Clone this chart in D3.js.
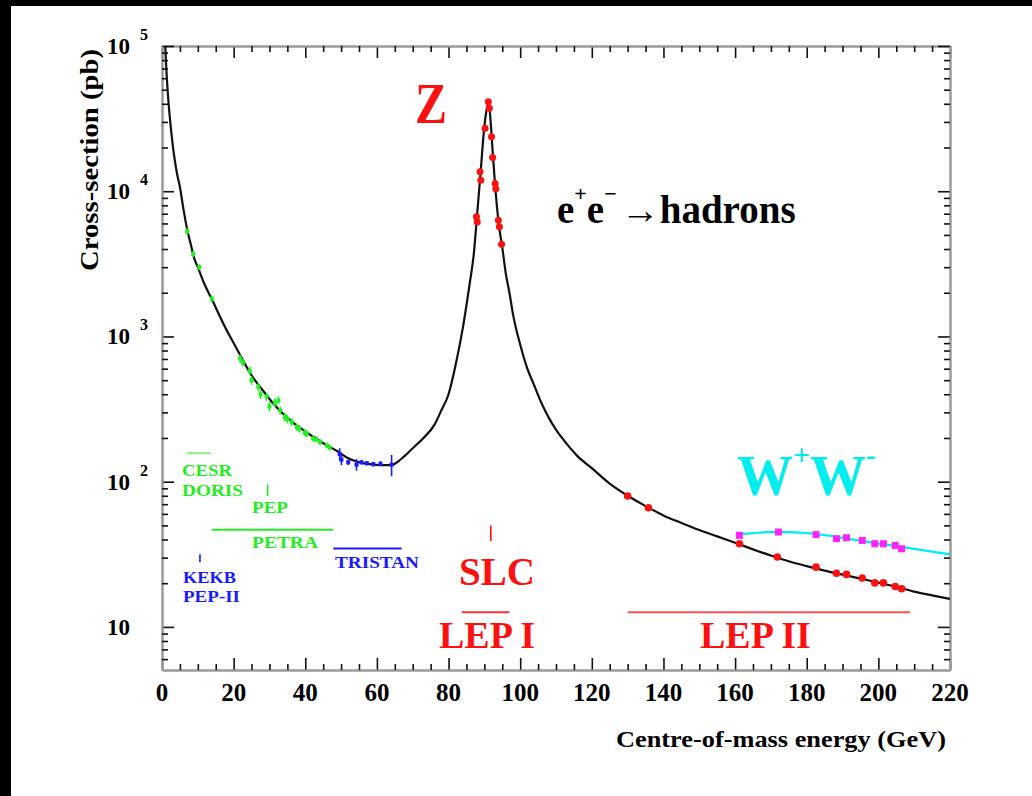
<!DOCTYPE html>
<html><head><meta charset="utf-8">
<script src="https://cdn.jsdelivr.net/npm/d3@7"></script>
<style>
html,body{margin:0;padding:0;background:#000;}
svg{display:block;}
text{font-family:"Liberation Serif","Times New Roman",serif;font-weight:bold;}
</style></head><body>
<svg id="c" width="1032" height="796"></svg>
<script>
// ---------- data ----------
// total e+e- -> hadrons cross-section curve [E (GeV), sigma (pb)]
const hadronCurve = [[0.8,115000],[1.2,70000],[1.8,41500],[2.5,27000],[3.0,20800],[3.5,16800],[4.2,13200],[5.0,10700],[6.0,7500],[7.0,5500],[8.0,4350],[9.0,3450],[10,3000],[12,2250],[14,1790],[16,1400],[18,1110],[20,900],[22,730],[25,540],[28,430],[31,347],[34,290],[37,250],[40,222],[43,198],[46,178],[49,162],[52,145],[55,136],[58,132],[61,130],[64,130],[67,145],[70,170],[73,200],[76,245],[78,310],[80,400],[82,640],[84,1150],[86,2400],[87,3600],[88,7000],[89,14000],[90,28000],[90.6,36000],[91.2,41000],[91.8,29000],[92.4,17500],[93,11000],[94,6000],[95,4100],[96,2700],[97,2000],[98,1420],[100,880],[102,600],[104,455],[106,345],[108,275],[110,228],[113,182],[116,150],[120,124],[125,97],[130,80],[135,68],[140,58.5],[145,52],[150,46.5],[155,42],[160,38],[165,34.2],[170,31],[175,28.3],[180,26.2],[185,24.4],[190,22.9],[195,21.5],[200,20.2],[205,18.9],[210,17.5],[215,16.5],[220,15.6]];
// W+W- curve
const wwCurve = [[161,43.5],[165,44.3],[170,45],[175,45],[180,44.2],[185,42.8],[190,41],[195,39.2],[200,37.5],[205,36],[210,34.5],[215,33],[220,31.6]];
// low-energy measurements (CESR, DORIS, PEP, PETRA) [E, sigma, err]
const greenPts = [[7.0,5300,250],[8.7,3700,180],[10.4,3000,140],[13.9,1820,90],[21.8,705,45],[22.6,660,40],[24.5,580,40],[25.0,500,35],[26.9,450,30],[27.5,400,28],[29.2,385,25],[30.0,330,25],[31.5,350,25],[32.5,362,22],[33.0,310,20],[34.3,280,18],[35.0,270,18],[36.2,258,16],[37.6,238,14],[38.3,232,14],[39.8,218,12],[40.4,214,12],[42.2,198,10],[43.0,196,10],[44.1,188,9],[46.0,178,8],[46.8,172,8]];
// TRISTAN measurements [E, sigma, err]
const bluePts = [[49.6,155,15],[50.1,142,12],[52.0,136,6],[54.3,131,12],[55.7,136,5],[57.2,134,5],[59.0,132,5],[61.0,133,5],[64.1,131,22]];
// LEP I (Z peak) measurements [E, sigma]
const lep1Pts = [[91.1,41300],[91.4,37200],[90.2,27100],[92.0,23700],[92.3,17100],[88.8,13600],[89.0,11900],[93.0,11300],[93.2,10400],[87.8,6670],[88.0,6150],[93.9,6310],[94.2,5690],[94.8,4320]];
// LEP II hadronic measurements [E, sigma]
const lep2Pts = [[130.0,79.6],[135.8,66.2],[161.2,37.4],[171.8,30.3],[182.6,25.8],[188.3,23.4],[191.1,23.0],[195.5,21.7],[199.0,20.1],[201.4,20.1],[204.7,19.0],[206.5,18.3]];
// LEP II W+W- measurements [E, sigma]
const wwPts = [[161.2,42.7],[172.1,45.0],[182.6,43.2],[188.3,40.5],[191.1,41.1],[195.5,39.4],[199.0,37.4],[201.4,37.4],[204.7,36.4],[206.5,34.5]];
// accelerator energy ranges [name, Emin, Emax, sigma level]
const machineRanges = [["CESR",6.9,13.7,157],["PETRA",13.9,47.8,46.6],["TRISTAN",47.8,66.9,34.7],["LEP I",83.7,97.0,12.6],["LEP II",130,208.8,12.6]];
const machinePoints = [["PEP",29.5,79.6,95.5],["KEKB",10.6,27.9,31.6],["SLC",91.8,39,50]];
// tick labels
const xTickLabels = [0,20,40,60,80,100,120,140,160,180,200,220];
const yTickExps = [1,2,3,4,5];

// ---------- drawing ----------
const W = 1032, H = 796;
const svg = d3.select("#c");
svg.append("rect").attr("x",11).attr("y",6).attr("width",W-11).attr("height",H-6).attr("fill","#fff");

const x = d3.scaleLinear().domain([0,220]).range([162,950]);
const y = d3.scaleLog().domain([5.05,1e5]).range([670,46]);

svg.append("defs").append("clipPath").attr("id","clip")
  .append("rect").attr("x",162).attr("y",46).attr("width",788).attr("height",624);

const majorX = xTickLabels;
const minorX = x.ticks(44).filter(v => v % 20 !== 0);
const majorY = yTickExps.map(e => Math.pow(10,e));
const minorY = y.ticks().filter(v => !majorY.some(m => Math.abs(m - v) < 1e-9));

function styleAxis(g){
  g.select(".domain").attr("stroke","#9a9a9a").attr("stroke-width",2);
  g.selectAll(".tick line").attr("stroke","#111").attr("stroke-width",1.6);
  g.selectAll(".tick text").remove();
}
const axes = [
  [d3.axisBottom(x).tickValues(majorX).tickSize(-12), "translate(0,670)"],
  [d3.axisBottom(x).tickValues(minorX).tickSize(-6), "translate(0,670)"],
  [d3.axisTop(x).tickValues(majorX).tickSize(-12), "translate(0,46)"],
  [d3.axisTop(x).tickValues(minorX).tickSize(-6), "translate(0,46)"],
  [d3.axisLeft(y).tickValues(majorY).tickSize(-12), "translate(162,0)"],
  [d3.axisLeft(y).tickValues(minorY).tickSize(-6), "translate(162,0)"],
  [d3.axisRight(y).tickValues(majorY).tickSize(-12), "translate(950,0)"],
  [d3.axisRight(y).tickValues(minorY).tickSize(-6), "translate(950,0)"]
];
axes.forEach(([ax,tr]) => {
  svg.append("g").attr("transform",tr).call(ax.tickSizeOuter(0).tickFormat("")).call(styleAxis);
});

// x tick labels
svg.append("g").selectAll("text").data(xTickLabels).join("text")
  .attr("x", d => x(d)).attr("y", 701).attr("text-anchor","middle")
  .style("font-size","25px").attr("fill","#000").text(d => d);

// y tick labels
const yl = svg.append("g");
yTickExps.forEach(e => {
  const v = Math.pow(10,e);
  yl.append("text").attr("x",130).attr("y",y(v)+8).attr("text-anchor","end")
    .style("font-size","23px").text("10");
  if (e > 1) yl.append("text").attr("x",140).attr("y",y(v)-6)
    .style("font-size","16px").text(e);
});

// axis titles
svg.append("text").attr("transform","translate(98,160) rotate(-90)")
  .attr("text-anchor","middle").style("font-size","25px")
  .attr("textLength",222).attr("lengthAdjust","spacingAndGlyphs")
  .text("Cross-section (pb)");
svg.append("text").attr("x",616).attr("y",747)
  .style("font-size","24px")
  .attr("textLength",330).attr("lengthAdjust","spacingAndGlyphs")
  .text("Centre-of-mass energy (GeV)");

// curves
const plot = svg.append("g").attr("clip-path","url(#clip)");
const line = d3.line().x(d => x(d[0])).y(d => y(d[1])).curve(d3.curveMonotoneX);
plot.append("path").datum(wwCurve).attr("d",line)
  .attr("fill","none").attr("stroke","#00eeee").attr("stroke-width",2.2);
plot.append("path").datum(hadronCurve).attr("d",line)
  .attr("fill","none").attr("stroke","#111").attr("stroke-width",2.2);

// error-bar points
function errPts(data, color, size){
  const g = plot.append("g");
  g.selectAll("line").data(data).join("line")
    .attr("x1",d=>x(d[0])).attr("x2",d=>x(d[0]))
    .attr("y1",d=>y(d[1]+d[2])).attr("y2",d=>y(Math.max(d[1]-d[2],1)))
    .attr("stroke",color).attr("stroke-width",1.6);
  g.selectAll("rect").data(data).join("rect")
    .attr("x",d=>x(d[0])-size/2).attr("y",d=>y(d[1])-size/2)
    .attr("width",size).attr("height",size).attr("fill",color);
}
errPts(greenPts, "#22ee22", 4);
errPts(bluePts, "#1a1aff", 4);

plot.append("g").selectAll("circle").data(lep1Pts).join("circle")
  .attr("cx",d=>x(d[0])).attr("cy",d=>y(d[1])).attr("r",3.5).attr("fill","#ff1010");
plot.append("g").selectAll("circle").data(lep2Pts).join("circle")
  .attr("cx",d=>x(d[0])).attr("cy",d=>y(d[1])).attr("r",3.8).attr("fill","#ff1010");
plot.append("g").selectAll("rect").data(wwPts).join("rect")
  .attr("x",d=>x(d[0])-3.5).attr("y",d=>y(d[1])-3.5).attr("width",7).attr("height",7)
  .attr("fill","#ff22ff");

// accelerator ranges
const rangeColor = {"CESR":"#88ee88","PETRA":"#22ee22","TRISTAN":"#1a1aff","LEP I":"#ff3030","LEP II":"#ff5050"};
svg.append("g").selectAll("line").data(machineRanges).join("line")
  .attr("x1",d=>x(d[1])).attr("x2",d=>x(d[2])).attr("y1",d=>y(d[3])).attr("y2",d=>y(d[3]))
  .attr("stroke",d=>rangeColor[d[0]]).attr("stroke-width",2);
const pointColor = {"PEP":"#22ee22","KEKB":"#1a1aff","SLC":"#ff1010"};
svg.append("g").selectAll("line").data(machinePoints).join("line")
  .attr("x1",d=>x(d[1])).attr("x2",d=>x(d[1])).attr("y1",d=>y(d[2])).attr("y2",d=>y(d[3]))
  .attr("stroke",d=>pointColor[d[0]]).attr("stroke-width",1.6);

// labels
function lab(txt, px, py, size, color, len){
  const t = svg.append("text").attr("x",px).attr("y",py).style("font-size",size+"px")
    .attr("fill",color).text(txt);
  if (len) t.attr("textLength",len).attr("lengthAdjust","spacingAndGlyphs");
  return t;
}
lab("CESR",182,476,17,"#22ee22",50);
lab("DORIS",182,496,17,"#22ee22",61);
lab("PEP",252,513,17,"#22ee22",36);
lab("PETRA",252,548,17,"#22ee22",66);
lab("TRISTAN",335,568,17,"#1a1aff",84);
lab("KEKB",183,583,17,"#1a1aff",53);
lab("PEP-II",183,602,17,"#1a1aff",57);
lab("SLC",459,585,39,"#ff1010");
lab("LEP I",439,648,38,"#ff1010");
lab("LEP II",700,648,38,"#ff1010");
lab("Z",415,123,56,"#ff1010",32);

const ee = svg.append("text").attr("x",557).attr("y",223).style("font-size","39px").attr("fill","#000");
ee.append("tspan").text("e");
ee.append("tspan").attr("dy",-22).style("font-size","22px").text("+");
ee.append("tspan").attr("dy",22).text("e");
ee.append("tspan").attr("dy",-22).style("font-size","22px").text("\u2212");
ee.append("tspan").attr("dy",22).attr("dx",4).text("\u2192hadrons");

const ww = svg.append("text").attr("x",737).attr("y",495).style("font-size","56px").attr("fill","#00eeee");
ww.append("tspan").text("W");
ww.append("tspan").attr("dy",-30).style("font-size","30px").text("+");
ww.append("tspan").attr("dy",30).text("W");
ww.append("tspan").attr("dy",-30).style("font-size","30px").text("-");
</script>
</body></html>
